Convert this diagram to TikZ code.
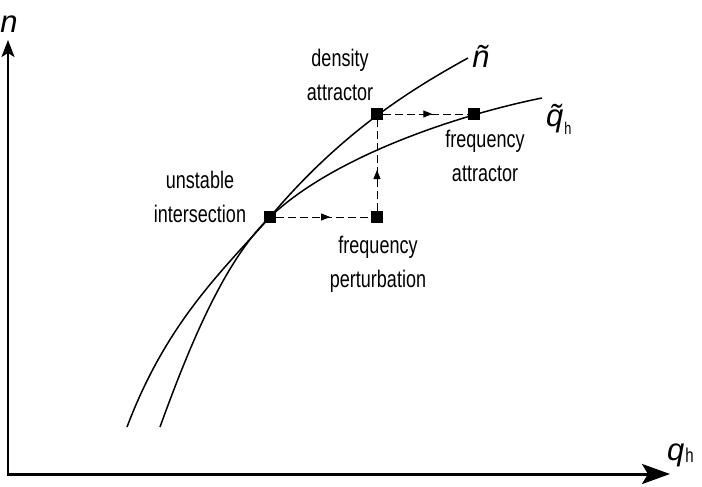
\documentclass[tikz,border=0pt]{standalone}
\usepackage{fontspec}
\setmainfont{Liberation Sans}
\newfontfamily\narrowfont{Liberation Sans}[FakeStretch=0.75]
\usetikzlibrary{arrows.meta,decorations.markings}
\begin{document}
\begin{tikzpicture}[x=1pt,y=-1pt,
  lbl/.style={font=\narrowfont\fontsize{24}{34}\selectfont, align=center, inner sep=0pt},
  sym/.style={inner sep=0pt, font=\fontsize{31}{31}\selectfont\itshape},
  ptbox/.style={fill=black, minimum size=12pt, inner sep=0pt, draw=none},
  curve/.style={line width=1.5pt},
  flow/.style={dash pattern=on 8pt off 4pt, line width=1pt},
  flowmid/.style={decoration={markings, mark=at position #1 with {\arrow{Triangle[length=9pt,width=7pt]}}}, postaction={decorate}}
]
\useasboundingbox (0,0) rectangle (702,487);
% axes
\coordinate (o) at (8,474);
\coordinate (ob) at (8,475.5);
\coordinate (ytop) at (8,40);
\coordinate (xend) at (670,474);
\draw[line width=2pt, -{Stealth[length=17pt,width=13pt,inset=4pt]}] (ob) -- (ytop);
\draw[line width=3pt, -{Stealth[length=28pt,width=20pt,inset=6pt]}] (o) -- (xend);
% curves
\coordinate (nA) at (127,427);
\coordinate (nE) at (468,58);
\coordinate (qB) at (160,427);
\coordinate (qG) at (542,98);
\coordinate (P) at (270,217);
\draw[curve] (nA) .. controls (166,324) and (219,274) .. (P)
                  .. controls (340,134) and (408,91) .. (nE);
\draw[curve] (qB) .. controls (190,344) and (225,260) .. (P)
                  .. controls (335,155) and (462,114) .. (qG);
% points
\node[ptbox] (ui) at (270,217) {};
\node[ptbox] (da) at (377,114) {};
\node[ptbox] (fp) at (377,217) {};
\node[ptbox] (fa) at (474,114) {};
% dashed moves
\draw[flow, flowmid=0.57] (ui) -- (fp);
\draw[flow, flowmid=0.45] (fp) -- (da);
\draw[flow, flowmid=0.58] (da) -- (fa);
% labels
\node[lbl] (tda) at (340,75) {density\\attractor};
\node[lbl] (tui) at (200,197) {unstable\\intersection};
\node[lbl] (tfp) at (378,264) {frequency\\perturbation};
\node[lbl] (tfa) at (485,156) {frequency\\attractor};
% symbols
\node[sym] (nlab) at (9,24) {n};
\node[sym, anchor=base] (ntl) at (481,67) {\~{n}};
\node[sym, anchor=base west] (qtl) at (546,126) {\~{q}\hspace{1pt}{\upshape\narrowfont\fontsize{17}{17}\selectfont\raisebox{-9pt}{h}}};
\node[sym, anchor=base west] (qlab) at (667,460) {q\hspace{1pt}{\upshape\narrowfont\fontsize{20}{20}\selectfont\raisebox{-2pt}{h}}};
\end{tikzpicture}
\end{document}
